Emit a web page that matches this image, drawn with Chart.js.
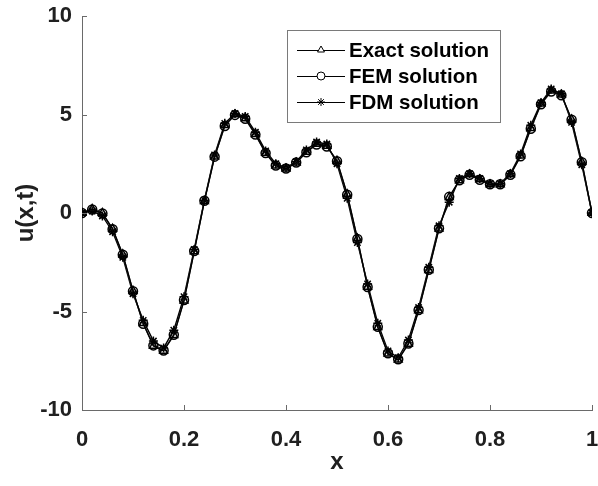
<!DOCTYPE html>
<html>
<head>
<meta charset="utf-8">
<script src="https://cdn.jsdelivr.net/npm/chart.js@4/dist/chart.umd.min.js"></script>
<style>
  html, body { margin: 0; padding: 0; background: #fff; }
  #wrap { width: 598px; height: 486px; }
</style>
</head>
<body>
<div id="wrap"><canvas id="chart" width="598" height="486"></canvas></div>
<script>
// ===== Data =====
const xValues = [0, 0.02, 0.04, 0.06, 0.08, 0.10, 0.12, 0.14, 0.16, 0.18,
  0.20, 0.22, 0.24, 0.26, 0.28, 0.30, 0.32, 0.34, 0.36, 0.38,
  0.40, 0.42, 0.44, 0.46, 0.48, 0.50, 0.52, 0.54, 0.56, 0.58,
  0.60, 0.62, 0.64, 0.66, 0.68, 0.70, 0.72, 0.74, 0.76, 0.78,
  0.80, 0.82, 0.84, 0.86, 0.88, 0.90, 0.92, 0.94, 0.96, 0.98, 1.00];

const exactValues = [0, 0.2, 0.0, -0.8, -2.1, -3.95, -5.6, -6.75, -7.0, -6.2,
  -4.45, -1.95, 0.6, 2.85, 4.45, 5.0, 4.8, 4.0, 3.05, 2.4,
  2.25, 2.55, 3.1, 3.5, 3.4, 2.65, 0.95, -1.3, -3.75, -5.8,
  -7.15, -7.45, -6.65, -4.95, -2.9, -0.8, 0.8, 1.65, 1.95, 1.7,
  1.45, 1.45, 1.95, 2.9, 4.3, 5.55, 6.2, 6.0, 4.75, 2.6, 0];

const femValues = [0, 0.18, -0.02, -0.82, -2.12, -3.97, -5.62, -6.72, -6.98, -6.18,
  -4.42, -1.93, 0.62, 2.86, 4.42, 4.98, 4.78, 3.98, 3.04, 2.41,
  2.26, 2.56, 3.08, 3.48, 3.38, 2.63, 0.93, -1.32, -3.76, -5.78,
  -7.12, -7.42, -6.62, -4.93, -2.88, -0.78, 0.82, 1.66, 1.94, 1.69,
  1.46, 1.46, 1.94, 2.88, 4.28, 5.52, 6.17, 5.98, 4.73, 2.58, 0];

const fdmValues = [0, 0.1, -0.15, -0.95, -2.25, -4.1, -5.45, -6.5, -6.85, -5.95,
  -4.25, -1.85, 0.65, 2.95, 4.55, 5.05, 4.9, 4.1, 3.15, 2.5,
  2.3, 2.6, 3.2, 3.6, 3.5, 2.5, 0.75, -1.5, -3.6, -5.6,
  -7.0, -7.35, -6.45, -4.8, -2.75, -0.65, 0.55, 1.75, 2.0, 1.75,
  1.5, 1.5, 2.0, 3.0, 4.45, 5.6, 6.3, 6.05, 4.6, 2.45, 0];

const xTicks = [0, 0.2, 0.4, 0.6, 0.8, 1];
const yTicks = [-10, -5, 0, 5, 10];

const seriesNames = ['Exact solution', 'FEM solution', 'FDM solution'];
const seriesMarkers = ['triangle', 'circle', 'star'];

const FONT = '"Liberation Sans", Arial, sans-serif';
const AXIS_COLOR = '#6a6a6a';
const TEXT_COLOR = '#202020';

function toPoints(ys) {
  return xValues.map((x, i) => ({ x: x, y: ys[i] }));
}

// ===== Inward tick marks (MATLAB style) =====
const innerTicks = {
  id: 'innerTicks',
  afterDraw(chart) {
    const ctx = chart.ctx;
    const ca = chart.chartArea;
    const xs = chart.scales.x, ys = chart.scales.y;
    ctx.save();
    ctx.strokeStyle = AXIS_COLOR;
    ctx.lineWidth = 1;
    ctx.beginPath();
    xTicks.forEach(v => {
      const px = Math.round(xs.getPixelForValue(v)) + 0.5;
      ctx.moveTo(px, ca.bottom);
      ctx.lineTo(px, ca.bottom - 5);
    });
    yTicks.forEach(v => {
      const py = Math.round(ys.getPixelForValue(v)) + 0.5;
      ctx.moveTo(ca.left, py);
      ctx.lineTo(ca.left + 5, py);
    });
    ctx.stroke();
    ctx.restore();
  }
};

// ===== Legend box inside the axes =====
const boxLegend = {
  id: 'boxLegend',
  afterDraw(chart) {
    const ctx = chart.ctx;
    const ca = chart.chartArea;
    const left = ca.left + 205, top = ca.top + 14;
    const w = 213, h = 92;
    ctx.save();
    ctx.fillStyle = '#fff';
    ctx.fillRect(left, top, w, h);
    ctx.strokeStyle = '#7a7a7a';
    ctx.lineWidth = 1;
    ctx.strokeRect(left + 0.5, top + 0.5, w, h);

    ctx.font = 'bold 20.5px ' + FONT;
    ctx.textBaseline = 'middle';
    chart.data.datasets.forEach((ds, i) => {
      const cy = top + 20 + i * 26;
      ctx.strokeStyle = '#000';
      ctx.lineWidth = 1;
      ctx.beginPath();
      ctx.moveTo(left + 10, cy + 0.5);
      ctx.lineTo(left + 58, cy + 0.5);
      ctx.stroke();
      ctx.fillStyle = '#fff';
      Chart.helpers.drawPoint(ctx, {
        pointStyle: ds.pointStyle, radius: 4, borderWidth: 1, rotation: 0
      }, left + 34, cy);
      ctx.fillStyle = '#000';
      ctx.fillText(ds.label, left + 62, cy + 1);
    });
    ctx.restore();
  }
};

const lineColors = ['#000000', '#3a3a3a', '#000000'];
const allValues = [exactValues, femValues, fdmValues];

const datasets = allValues.map((vals, i) => ({
  label: seriesNames[i],
  data: toPoints(vals),
  borderColor: lineColors[i],
  borderWidth: 1.4,
  pointStyle: seriesMarkers[i],
  pointRadius: 4.5,
  pointBorderColor: '#000',
  pointBackgroundColor: 'rgba(255,255,255,0)',
  pointBorderWidth: 1.5,
  tension: 0
}));

new Chart(document.getElementById('chart').getContext('2d'), {
  type: 'line',
  data: { datasets: datasets },
  options: {
    responsive: false,
    animation: false,
    devicePixelRatio: 1,
    layout: { padding: { top: 16, right: 4, left: 12, bottom: 0 } },
    plugins: {
      legend: { display: false },
      tooltip: { enabled: false }
    },
    scales: {
      x: {
        type: 'linear',
        min: 0, max: 1,
        afterBuildTicks: s => { s.ticks = xTicks.map(v => ({ value: v })); },
        afterFit: s => { s.height = 76; s.paddingLeft = 0; s.paddingRight = 0; },
        grid: { display: false },
        border: { display: true, color: AXIS_COLOR, width: 1 },
        ticks: {
          color: TEXT_COLOR,
          padding: 9,
          maxRotation: 0,
          font: { family: FONT, size: 22, weight: 'bold' },
          callback: v => String(Number(v.toFixed(1)))
        },
        title: {
          display: true,
          text: 'x',
          color: TEXT_COLOR,
          padding: { top: 0, bottom: 9 },
          font: { family: FONT, size: 24, weight: 'bold' }
        }
      },
      y: {
        min: -10, max: 10,
        afterBuildTicks: s => { s.ticks = yTicks.map(v => ({ value: v })); },
        afterFit: s => { s.width = 70; s.paddingTop = 0; s.paddingBottom = 0; },
        grid: { display: false, tickLength: 0 },
        border: { display: true, color: AXIS_COLOR, width: 1 },
        ticks: {
          color: TEXT_COLOR,
          padding: 10,
          font: { family: FONT, size: 22, weight: 'bold' }
        },
        title: {
          display: true,
          text: 'u(x,t)',
          color: TEXT_COLOR,
          padding: { top: 0, bottom: 0 },
          font: { family: FONT, size: 24, weight: 'bold' }
        }
      }
    }
  },
  plugins: [innerTicks, boxLegend]
});
</script>
</body>
</html>
